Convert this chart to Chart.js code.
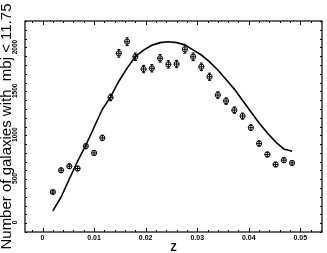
<!DOCTYPE html>
<html>
<head>
<meta charset="utf-8">
<script src="https://cdn.jsdelivr.net/npm/chart.js@4.4.0/dist/chart.umd.min.js"></script>
<style>
  html, body { margin: 0; padding: 0; background: #fff; }
</style>
</head>
<body>
<canvas id="grafico" width="327" height="253"></canvas>
<script>
// ==================== DATOS ====================

// redshift de cada bin
const zBins = [0.0020, 0.0036, 0.0052, 0.0068, 0.0084, 0.0100, 0.0116, 0.0132, 0.0148, 0.0164,
               0.0180, 0.0196, 0.0212, 0.0228, 0.0244, 0.0260, 0.0276, 0.0292, 0.0308, 0.0324,
               0.0340, 0.0356, 0.0372, 0.0388, 0.0404, 0.0420, 0.0436, 0.0452, 0.0468, 0.0484];

// galaxias observadas por bin
const galaxyCounts = [346, 594, 640, 614, 869, 792, 963, 1425, 1928, 2061,
                      1889, 1749, 1757, 1871, 1802, 1806, 1974, 1889, 1775, 1661,
                      1452, 1383, 1280, 1212, 1080, 899, 774, 660, 709, 678];

// barras de error (aprox. poisson)
const countErrors = [19, 24, 25, 25, 29, 28, 31, 38, 44, 45,
                     43, 42, 42, 43, 42, 42, 44, 43, 42, 41,
                     38, 37, 36, 35, 33, 30, 28, 26, 27, 26];

// curva del modelo
const modelCounts = [131, 289, 495, 697, 880, 1085, 1290, 1432, 1610, 1760,
                     1890, 1965, 2020, 2050, 2060, 2050, 2025, 1968, 1909, 1830,
                     1738, 1630, 1520, 1390, 1261, 1133, 1020, 918, 836, 810];

const xTickLabels = [0, 0.01, 0.02, 0.03, 0.04, 0.05];
const yTickLabels = [0, 500, 1000, 1500, 2000];

const FUENTE = '"Liberation Sans", Arial, sans-serif';

function esMayor(valor, lista) {
    return lista.some(l => Math.abs(l - valor) < 1e-9);
}

// ==================== PLUGINS ====================

// error bars sobre los puntos observados
const barrasError = {
    id: 'barrasError',
    afterDatasetsDraw(chart) {
        const { ctx, scales: { y } } = chart;
        const meta = chart.getDatasetMeta(1);
        ctx.save();
        ctx.strokeStyle = '#000';
        ctx.lineWidth = 1;
        meta.data.forEach((p, i) => {
            const arriba = y.getPixelForValue(galaxyCounts[i] + countErrors[i]);
            const abajo = y.getPixelForValue(galaxyCounts[i] - countErrors[i]);
            ctx.beginPath();
            ctx.moveTo(p.x, arriba);
            ctx.lineTo(p.x, abajo);
            ctx.moveTo(p.x - 1.5, arriba);
            ctx.lineTo(p.x + 1.5, arriba);
            ctx.moveTo(p.x - 1.5, abajo);
            ctx.lineTo(p.x + 1.5, abajo);
            ctx.moveTo(p.x - 2.6, p.y);
            ctx.lineTo(p.x + 2.6, p.y);
            ctx.stroke();
        });
        ctx.restore();
    }
};

// marco con ticks hacia dentro y etiquetas Y giradas
const marco = {
    id: 'marco',
    afterDraw(chart) {
        const { ctx, chartArea: a, scales: { x, y } } = chart;
        ctx.save();
        ctx.strokeStyle = '#000';
        ctx.lineWidth = 1.2;
        ctx.strokeRect(a.left, a.top, a.right - a.left, a.bottom - a.top);

        ctx.lineWidth = 1;
        ctx.beginPath();
        x.ticks.forEach(t => {
            const px = Math.round(x.getPixelForValue(t.value)) + 0.5;
            const largo = esMayor(t.value, xTickLabels) ? 4 : 2;
            ctx.moveTo(px, a.bottom);
            ctx.lineTo(px, a.bottom - largo);
            ctx.moveTo(px, a.top);
            ctx.lineTo(px, a.top + largo);
        });
        y.ticks.forEach(t => {
            const py = Math.round(y.getPixelForValue(t.value)) + 0.5;
            const largo = esMayor(t.value, yTickLabels) ? 4 : 2;
            ctx.moveTo(a.left, py);
            ctx.lineTo(a.left + largo, py);
            ctx.moveTo(a.right, py);
            ctx.lineTo(a.right - largo, py);
        });
        ctx.stroke();

        ctx.fillStyle = '#000';
        ctx.font = 'bold 6.5px ' + FUENTE;
        ctx.textAlign = 'center';
        ctx.textBaseline = 'middle';
        yTickLabels.forEach(v => {
            ctx.save();
            ctx.translate(15, y.getPixelForValue(v));
            ctx.rotate(-Math.PI / 2);
            ctx.fillText(String(v), 0, 0);
            ctx.restore();
        });
        ctx.restore();
    }
};

// ==================== GRÁFICO ====================

new Chart(document.getElementById('grafico'), {
    type: 'line',
    data: {
        datasets: [{
            data: zBins.map((z, i) => ({ x: z, y: modelCounts[i] })),
            borderColor: '#000',
            borderWidth: 1.6,
            pointRadius: 0,
            tension: 0,
            fill: false
        }, {
            data: zBins.map((z, i) => ({ x: z, y: galaxyCounts[i] })),
            showLine: false,
            pointRadius: 2.6,
            pointStyle: 'circle',
            pointBorderWidth: 1,
            pointBorderColor: '#000',
            pointBackgroundColor: '#fff'
        }]
    },
    options: {
        responsive: false,
        animation: false,
        layout: { padding: { top: 21, right: 2, bottom: 0, left: 0 } },
        plugins: {
            legend: { display: false },
            tooltip: { enabled: false }
        },
        scales: {
            x: {
                type: 'linear',
                min: -0.0034,
                max: 0.0542,
                grid: { display: false, drawTicks: false },
                border: { display: false },
                ticks: {
                    stepSize: 0.002,
                    includeBounds: false,
                    autoSkip: false,
                    maxRotation: 0,
                    padding: 2,
                    color: '#000',
                    font: { family: FUENTE, size: 7, weight: 'bold' },
                    callback: v => {
                        const m = xTickLabels.find(l => Math.abs(l - v) < 1e-9);
                        return m === undefined ? '' : String(m);
                    }
                },
                title: {
                    display: true,
                    text: 'Z',
                    color: '#000',
                    padding: 0,
                    font: { family: FUENTE, size: 10, weight: 'bold', lineHeight: 1 }
                },
                afterFit: s => { s.height = 21; }
            },
            y: {
                min: -110,
                max: 2297,
                grid: { display: false, drawTicks: false },
                border: { display: false },
                ticks: { stepSize: 100, includeBounds: false, display: false },
                title: {
                    display: true,
                    text: 'Number of galaxies with  mbj < 11.75',
                    color: '#000',
                    padding: 0,
                    font: { family: FUENTE, size: 15, lineHeight: 0.85 }
                },
                afterFit: s => { s.width = 25; }
            }
        }
    },
    plugins: [barrasError, marco]
});
</script>
</body>
</html>
